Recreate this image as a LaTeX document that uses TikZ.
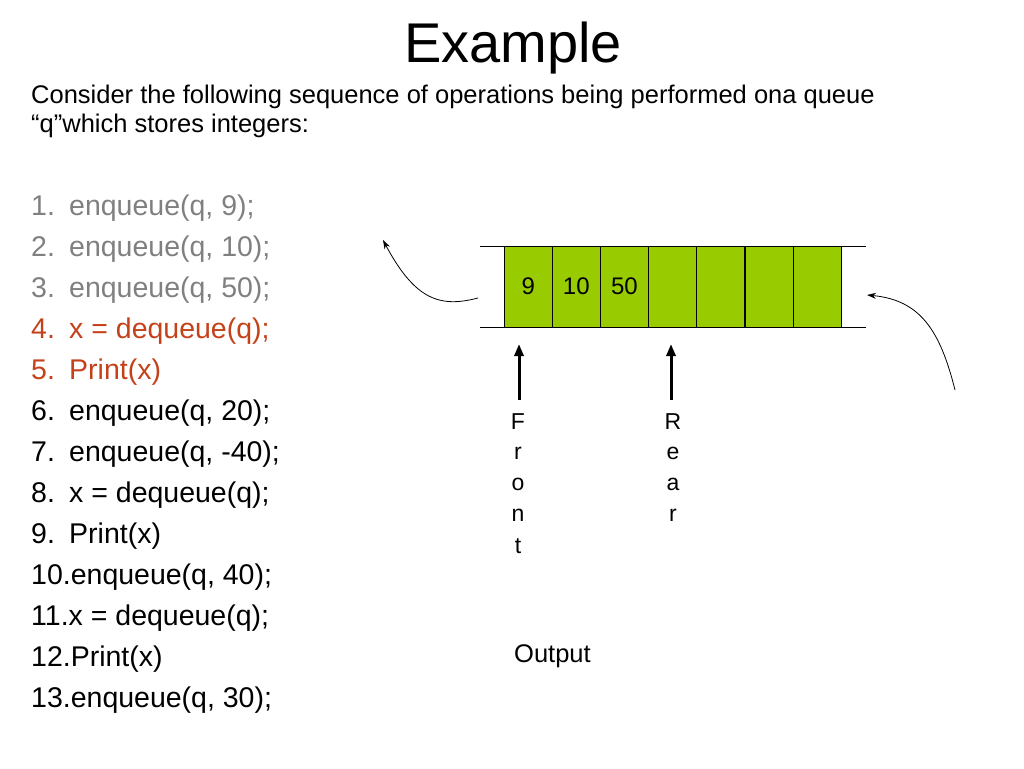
\documentclass[tikz,border=0pt]{standalone}
\usepackage{fontspec}
\setmainfont{Liberation Sans}
\usetikzlibrary{arrows.meta}
\definecolor{qgreen}{HTML}{99CC00}
\definecolor{dgray}{HTML}{808080}
\definecolor{hred}{HTML}{C4421A}
\begin{document}
\begin{tikzpicture}[x=1pt,y=-1pt,
  cell/.style={draw=black,fill=qgreen,minimum width=48pt,minimum height=81pt,inner sep=0pt,anchor=north west,font=\fontsize{24}{26}\selectfont},
  item/.style={anchor=west,inner sep=0pt,font=\fontsize{28.5}{30}\selectfont},
  txt/.style={anchor=west,inner sep=0pt,font=\fontsize{25.5}{27}\selectfont},
  let/.style={inner sep=0pt,font=\fontsize{23}{25}\selectfont},
  thin/.style={-{Stealth[length=9pt,width=6pt]},line width=0.8pt},
  thick/.style={-{Triangle[length=12pt,width=9pt]},line width=3pt}]
\useasboundingbox (0,0) rectangle (1024,768);
\node[inner sep=0pt,font=\fontsize{56}{60}\selectfont] (title) at (513,48) {Example};
\node[txt] (l1) at (31,97) {Consider the following sequence of operations being performed ona queue};
\node[txt] (l2) at (31,126) {“q”which stores integers:};
\foreach \n/\t/\c [count=\i from 0] in {1/{enqueue(q, 9);}/dgray,2/{enqueue(q, 10);}/dgray,3/{enqueue(q, 50);}/dgray,4/{x = dequeue(q);}/hred,5/{Print(x)}/hred,6/{enqueue(q, 20);}/black,7/{enqueue(q, -40);}/black,8/{x = dequeue(q);}/black,9/{Print(x)}/black}{
  \node[item,text=\c] (n\n) at (31,208+41*\i) {\n.\vphantom{(q}};
  \node[item,text=\c] (t\n) at (69,208+41*\i) {\t\vphantom{(q}};
}
\foreach \t [count=\i from 9] in {{10.enqueue(q, 40);},{11.x = dequeue(q);},{12.Print(x)},{13.enqueue(q, 30);}}{
  \node[item] (u\i) at (31,208+41*\i) {\t\vphantom{(q}};
}
\foreach \v [count=\i from 0] in {9,10,50,{},{},{},{}}{
  \node[cell] (c\i) at (504+48.1*\i,246) {\v};
}
\coordinate (tl) at (480,246); \coordinate (tr) at (866,246);
\coordinate (bl) at (480,327); \coordinate (br) at (866,327);
\draw[line width=0.8pt] (tl) -- (tr);
\draw[line width=0.8pt] (bl) -- (br);
\coordinate (la) at (478,298); \coordinate (lb) at (383,240);
\draw[thin] (la) .. controls (440,308) and (415,300) .. (lb);
\coordinate (ra) at (955,390); \coordinate (rb) at (867,295);
\draw[thin] (ra) .. controls (940,330) and (920,300) .. (rb);
\coordinate (fa) at (519,400); \coordinate (fb) at (519,344);
\draw[thick] (fa) -- (fb);
\coordinate (ra2) at (671,400); \coordinate (rb2) at (671,344);
\draw[thick] (ra2) -- (rb2);
\foreach \l [count=\i from 0] in {F,r,o,n,t}{\node[let] (f\i) at (518,422+31*\i) {\l};}
\foreach \l [count=\i from 0] in {R,e,a,r}{\node[let] (r\i) at (673,422+31*\i) {\l};}
\node[txt] (out) at (514,656) {Output};
\end{tikzpicture}
\end{document}
